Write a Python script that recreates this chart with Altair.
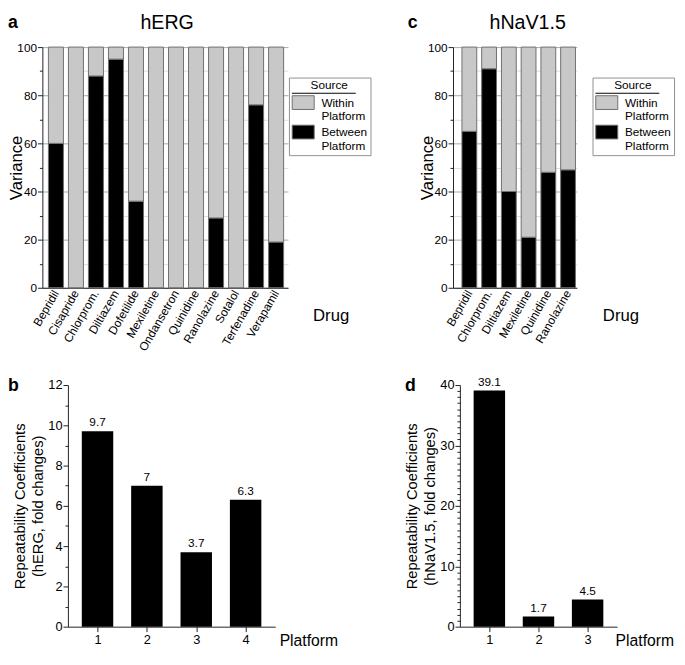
import altair as alt
import pandas as pd

FONT = "Liberation Sans"

# ---------------- data ----------------
herg_drugs = ["Bepridil", "Cisapride", "Chlorprom.", "Diltiazem", "Dofetilide", "Mexiletine",
              "Ondansetron", "Quinidine", "Ranolazine", "Sotalol", "Terfenadine", "Verapamil"]
herg_between = [60, 0, 88, 95, 36, 0, 0, 0, 29, 0, 76, 19]

nav_drugs = ["Bepridil", "Chlorprom.", "Diltiazem", "Mexiletine", "Quinidine", "Ranolazine"]
nav_between = [65, 91, 40, 21, 48, 49]

sources = ["Within Platform", "Between Platform"]
source_colors = ["#c8c8c8", "#000000"]
variance_ticks = [0, 20, 40, 60, 80, 100]
variance_minor = [10, 30, 50, 70, 90]

herg_platforms = [1, 2, 3, 4]
herg_rc = [9.7, 7, 3.7, 6.3]
herg_rc_ticks = [0, 2, 4, 6, 8, 10, 12]
herg_rc_minor = [1, 3, 5, 7, 9, 11]
herg_xdomain = [0.5, 4.5]

nav_platforms = [1, 2, 3]
nav_rc = [39.1, 1.7, 4.5]
nav_rc_ticks = [0, 10, 20, 30, 40]
nav_rc_minor = [v for v in range(0, 41) if v % 10 != 0]
nav_xdomain = [0.5, 3.5]


def text_layer(txt, lx, ly, size, weight, align):
    return alt.Chart(pd.DataFrame({"t": [txt]})).mark_text(
        align=align, baseline="alphabetic", fontSize=size, fontWeight=weight, font=FONT,
        color="black"
    ).encode(text="t:N", x=alt.value(lx), y=alt.value(ly))


def variance_panel(drugs, between, letter, title, width, x0, band_align, legend_x,
                   title_x, letter_x, drug_x):
    # x0: left shift of the y axis from the panel origin
    rows = []
    for d, b in zip(drugs, between):
        rows.append({"drug": d, "source": "Between Platform", "value": b, "order": 0})
        rows.append({"drug": d, "source": "Within Platform", "value": 100 - b, "order": 1})
    df = pd.DataFrame(rows)
    yscale = alt.Scale(domain=[0, 100], nice=False)
    bars = alt.Chart(df).mark_bar(stroke="#6f6f6f", strokeWidth=1).encode(
        x=alt.X("drug:N", sort=drugs,
                scale=alt.Scale(paddingInner=0.25, paddingOuter=0.26, align=band_align,
                                range=[-x0, width]),
                axis=alt.Axis(title="Drug", titleAngle=0, titleAlign="left",
                              titleBaseline="alphabetic", titleX=drug_x, titleY=33,
                              titleFontSize=17, titleFontWeight="normal",
                              labelAngle=-60, labelFontSize=12, ticks=False,
                              labelPadding=3)),
        y=alt.Y("value:Q", stack="zero", scale=yscale,
                axis=alt.Axis(values=variance_ticks, title="Variance", titleFontSize=17,
                              titleFontWeight="normal", titleX=-21,
                              titleBaseline="alphabetic", offset=x0,
                              grid=True, gridColor="#a8a8a8", tickSize=5,
                              labelFontSize=12, labelPadding=1)),
        color=alt.Color("source:N", scale=alt.Scale(domain=sources, range=source_colors),
                        legend=alt.Legend(orient="none", legendX=legend_x, legendY=31,
                                          title="Source", titleFontSize=12,
                                          titleFontWeight="normal", titleAnchor="middle",
                                          titlePadding=3, labelFontSize=12,
                                          labelExpr="split(datum.label, ' ')",
                                          labelBaseline="middle",
                                          symbolType="M-1.6,-1H1.6V1H-1.6Z",
                                          symbolSize=196, symbolOffset=4,
                                          symbolStrokeColor="#707070",
                                          symbolStrokeWidth=1, strokeColor="#909090",
                                          padding=3, rowPadding=0, labelOffset=11)),
        order=alt.Order("order:Q"),
    )
    minor = alt.Chart(pd.DataFrame({"m": variance_minor})).mark_point(opacity=0).encode(
        y=alt.Y("m:Q", scale=yscale,
                axis=alt.Axis(orient="left", values=variance_minor, labels=False,
                              domain=False, tickSize=3, grid=True, gridColor="#dedede",
                              title=None, offset=x0))
    )
    underline = alt.Chart(pd.DataFrame({"u": [0]})).mark_rule(color="black", strokeWidth=1).encode(
        x=alt.value(legend_x + 3), x2=alt.value(legend_x + 68), y=alt.value(31 + 16)
    )
    return alt.layer(
        bars, minor, underline,
        text_layer(letter, letter_x, -19, 18, "bold", "left"),
        text_layer(title, title_x, -18, 20, "normal", "center"),
    ).resolve_axis(y="independent").properties(width=width, height=245)


def rc_panel(platforms, values, xdomain, ticks, minor_vals, ymax, letter, title_lines,
             width, plat_x, letter_x):
    df = pd.DataFrame({"platform": platforms, "rc": values})
    xscale = alt.Scale(domain=xdomain, nice=False, zero=False)
    yscale = alt.Scale(domain=[0, ymax], nice=False)
    xaxis = alt.Axis(values=platforms, format="d", title="Platform", titleAngle=0,
                     titleAlign="left", titleBaseline="alphabetic", titleX=plat_x,
                     titleY=19, titleFontSize=16, titleFontWeight="normal",
                     labelFontSize=13, tickSize=5, grid=False, labelPadding=2)
    base = alt.Chart(df)
    bars = base.mark_bar(size=32, color="black").encode(
        x=alt.X("platform:Q", scale=xscale, axis=xaxis),
        y=alt.Y("rc:Q", scale=yscale,
                axis=alt.Axis(values=ticks, title=title_lines, titleFontSize=15,
                              titleFontWeight="normal", titleX=-44,
                              titleBaseline="alphabetic", titleLineHeight=18,
                              labelFontSize=13, tickSize=5, grid=False, labelPadding=1)),
    )
    labels = base.mark_text(baseline="bottom", dy=-2, fontSize=12, font=FONT,
                            color="black").encode(
        x=alt.X("platform:Q", scale=xscale, axis=xaxis),
        y=alt.Y("rc:Q", scale=yscale, axis=None),
        text=alt.Text("rc:Q"),
    )
    minor = alt.Chart(pd.DataFrame({"m": minor_vals})).mark_point(opacity=0).encode(
        y=alt.Y("m:Q", scale=yscale,
                axis=alt.Axis(orient="left", values=minor_vals, labels=False,
                              domain=False, tickSize=3, grid=False, title=None))
    )
    return alt.layer(
        bars, labels, minor, text_layer(letter, letter_x, 6, 18, "bold", "left")
    ).resolve_axis(y="independent").properties(width=width, height=246)


# panel a shares its origin with panel b (page x 69); its y axis sits 26 px further left
panel_a = variance_panel(herg_drugs, herg_between, "a", "hERG", 224, 26, 0.58, 225,
                         101, -61, 249)
panel_c = variance_panel(nav_drugs, nav_between, "c", "hNaV1.5", 126, 0, 0.87, 142,
                         76, -46, 152)
panel_b = rc_panel(herg_platforms, herg_rc, herg_xdomain, herg_rc_ticks, herg_rc_minor, 12,
                   "b", ["Repeatability Coefficients", "(hERG, fold changes)"], 211, 215, -61)
panel_d = rc_panel(nav_platforms, nav_rc, nav_xdomain, nav_rc_ticks, nav_rc_minor, 40,
                   "d", ["Repeatability Coefficients", "(hNaV1.5, fold changes)"], 160, 158, -56)

top = alt.hconcat(panel_a, panel_c, spacing=168, bounds="flush").resolve_scale(
    color="independent")
bottom = alt.hconcat(panel_b, panel_d, spacing=188, bounds="flush")

chart = alt.vconcat(top, bottom, spacing=22).properties(
    padding={"left": 0, "top": 0, "right": 2, "bottom": 0}
).configure(font=FONT).configure_view(stroke=None).configure_axis(
    labelFont=FONT, titleFont=FONT, labelColor="black", titleColor="black",
    domainColor="#222222", tickColor="#222222"
).configure_legend(labelFont=FONT, titleFont=FONT, labelColor="black", titleColor="black")

chart.save("out.html", embed_options={"renderer": "svg", "actions": False})
